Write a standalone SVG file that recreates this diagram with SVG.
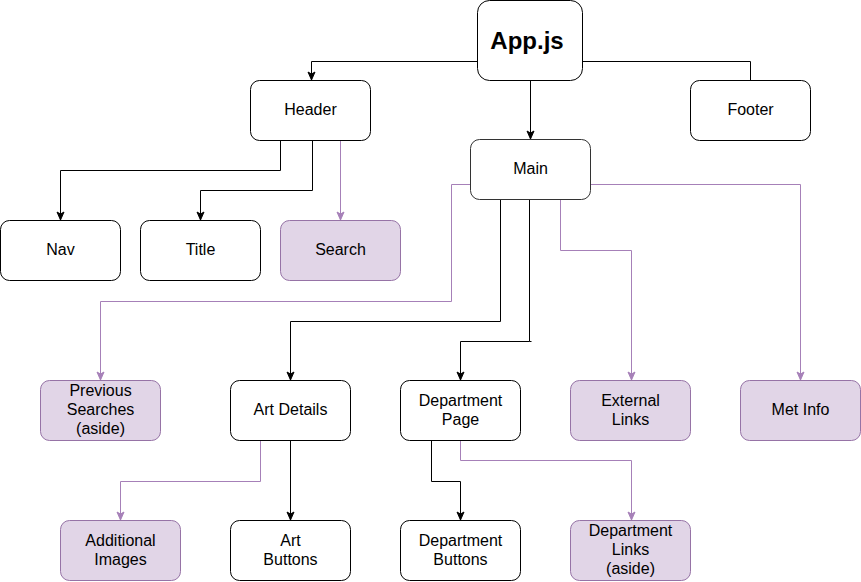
<svg xmlns="http://www.w3.org/2000/svg" width="861" height="582" viewBox="0 0 861 582">
<style>
.n rect{fill:#fff;stroke:#000;stroke-width:1}
.p rect{fill:#e1d5e7;stroke:#9673a6;stroke-width:1}
text{font-family:"Liberation Sans",Arial,Helvetica,sans-serif;font-size:16px;fill:#000;text-anchor:middle}
.b{stroke:#000;stroke-width:1;fill:none}
.v{stroke:#a680b8;stroke-width:1;fill:none}
.b.a{marker-end:url(#ab)}
.v.a{marker-end:url(#av)}
</style>
<defs>
<marker id="ab" markerUnits="userSpaceOnUse" markerWidth="10" markerHeight="10" viewBox="0 0 10 10" refX="9" refY="5" orient="auto">
<path d="M1,1.5 L9,5 L1,8.5 L3,5 z" fill="#000" stroke="#000" stroke-width="1"/>
</marker>
<marker id="av" markerUnits="userSpaceOnUse" markerWidth="10" markerHeight="10" viewBox="0 0 10 10" refX="9" refY="5" orient="auto">
<path d="M1,1.5 L9,5 L1,8.5 L3,5 z" fill="#a680b8" stroke="#a680b8" stroke-width="1"/>
</marker>
</defs>
<g id="connectors">
<path class="b a" d="M477.5,61.5 H311.5 V80"/>
<path class="b" d="M582.5,61.5 H750.5 V80"/>
<path class="b a" d="M530.5,80.5 V139"/>
<path class="b a" d="M280.5,140.5 V170.5 H60.5 V220"/>
<path class="b a" d="M312.5,140.5 V190.5 H200.5 V220"/>
<path class="v a" d="M340.5,140.5 V220"/>
<path class="v a" d="M470.5,184.5 H451.5 V301.5 H100.5 V380"/>
<path class="b a" d="M500.5,199.5 V321.5 H290.5 V380"/>
<path class="b a" d="M531.5,341.5 H529.5 M529.5,199.5 V341.5 H460.5 V380"/>
<path class="v a" d="M560.5,199.5 V250.5 H631.5 V380"/>
<path class="v a" d="M590.5,184.5 H800.5 V380"/>
<path class="v a" d="M260.5,440.5 V481.5 H120.5 V520"/>
<path class="b a" d="M290.5,440.5 V520"/>
<path class="b a" d="M431.5,440.5 V481.5 H460.5 V520"/>
<path class="v a" d="M460.5,440.5 V460.5 H631.5 V520"/>
</g>
<g id="app" class="n"><rect x="477.5" y="0.5" width="105" height="80" rx="12"/><text x="527" y="49" style="font-weight:bold;font-size:24px">App.js</text></g>
<g id="header" class="n"><rect x="250.5" y="80.5" width="120" height="60" rx="9"/><text x="310.5" y="115">Header</text></g>
<g id="footer" class="n"><rect x="690.5" y="80.5" width="120" height="60" rx="9"/><text x="750.5" y="115">Footer</text></g>
<g id="main" class="n"><rect x="470.5" y="139.5" width="120" height="60" rx="9" style="stroke:#333"/><text x="530.5" y="174">Main</text></g>
<g id="nav" class="n"><rect x="0.5" y="220.5" width="120" height="60" rx="9"/><text x="60.5" y="255">Nav</text></g>
<g id="title" class="n"><rect x="140.5" y="220.5" width="120" height="60" rx="9"/><text x="200.5" y="255">Title</text></g>
<g id="search" class="p"><rect x="280.5" y="220.5" width="120" height="60" rx="9"/><text x="340.5" y="255">Search</text></g>
<g id="previous-searches" class="p"><rect x="40.5" y="380.5" width="120" height="60" rx="9"/><text x="100.5" y="395.5">Previous</text><text x="100.5" y="414.5">Searches</text><text x="100.5" y="433.5">(aside)</text></g>
<g id="art-details" class="n"><rect x="230.5" y="380.5" width="120" height="60" rx="9"/><text x="290.5" y="415">Art Details</text></g>
<g id="department-page" class="n"><rect x="400.5" y="380.5" width="120" height="60" rx="9"/><text x="460.5" y="405.5">Department</text><text x="460.5" y="424.5">Page</text></g>
<g id="external-links" class="p"><rect x="570.5" y="380.5" width="120" height="60" rx="9"/><text x="630.5" y="405.5">External</text><text x="630.5" y="424.5">Links</text></g>
<g id="met-info" class="p"><rect x="740.5" y="380.5" width="120" height="60" rx="9"/><text x="800.5" y="415">Met Info</text></g>
<g id="additional-images" class="p"><rect x="60.5" y="520.5" width="120" height="60" rx="9"/><text x="120.5" y="545.5">Additional</text><text x="120.5" y="564.5">Images</text></g>
<g id="art-buttons" class="n"><rect x="230.5" y="520.5" width="120" height="60" rx="9"/><text x="290.5" y="545.5">Art</text><text x="290.5" y="564.5">Buttons</text></g>
<g id="department-buttons" class="n"><rect x="400.5" y="520.5" width="120" height="60" rx="9"/><text x="460.5" y="545.5">Department</text><text x="460.5" y="564.5">Buttons</text></g>
<g id="department-links" class="p"><rect x="570.5" y="520.5" width="120" height="60" rx="9"/><text x="630.5" y="535.5">Department</text><text x="630.5" y="554.5">Links</text><text x="630.5" y="573.5">(aside)</text></g>
</svg>
